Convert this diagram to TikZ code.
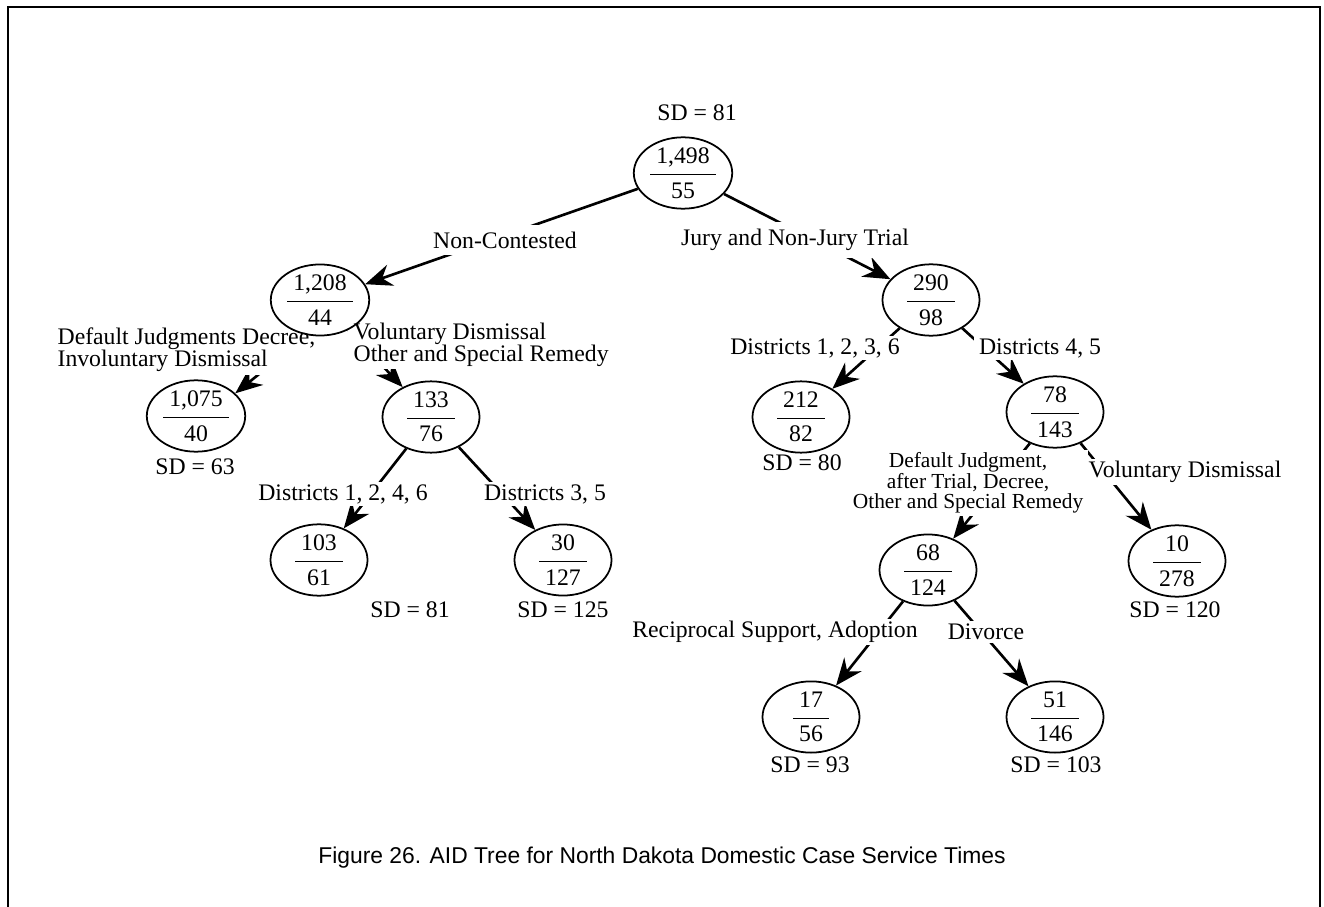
\documentclass[tikz,border=0pt]{standalone}
\usepackage{fontspec}
\setmainfont{Liberation Serif}
\newfontfamily\capfont{Liberation Sans}
\usepackage{tikz}
\usetikzlibrary{shapes.geometric, arrows.meta, backgrounds}
\newcommand{\aidfont}{\fontsize{13.5}{12.5}\selectfont}
\newcommand{\aidfrac}[2]{$\displaystyle\frac{\kern.12cm\mbox{#1}\kern.12cm}{\kern.12cm\mbox{#2}\kern.12cm}$}
\begin{document}
\begin{tikzpicture}[
    aidnode/.style={ellipse, draw, line width=1pt, minimum width=1.94cm, minimum height=1.22cm, inner sep=0pt, font=\aidfont},
    sdlbl/.style={font=\aidfont, inner sep=1pt},
    split/.style={font=\aidfont, fill=white, inner xsep=3pt, inner ysep=1.5pt},
    arrow/.style={-{Stealth[length=5.4mm, width=4.4mm, inset=1.8mm]}, line width=1.5pt}
]
    \useasboundingbox (0,0) rectangle (26.48,-18.14);
    % frame, open at the bottom
    \draw[line width=1.3pt] (0.16,-18.14) -- (0.16,-0.14) -- (26.40,-0.14) -- (26.40,-18.14);

    % Split labels (white, so they break the connectors)
    \node[split, inner ysep=4pt] (lnc) at (10.10, -4.80) {Non-Contested};
    \node[split, inner ysep=4pt] (ljury) at (15.90, -4.80) {Jury and Non-Jury Trial};
    \node[split, anchor=west, align=left] (ldefj) at (1.04, -7.00) {Default Judgments Decree,\\Involuntary Dismissal};
    \node[split, anchor=west, align=left] (lvold) at (6.96, -6.90) {Voluntary Dismissal\\Other and Special Remedy};
    \node[split] (ldA) at (16.30, -6.96) {Districts 1, 2, 3, 6};
    \node[split] (ldB) at (20.80, -6.96) {Districts 4, 5};
    \node[split] (ldC) at (6.86, -9.88) {Districts 1, 2, 4, 6};
    \node[split] (ldD) at (10.90, -9.88) {Districts 3, 5};
    \node[split, align=center, font=\fontsize{12.2}{11.6}\selectfont] (ltrial) at (19.36, -9.66) {Default Judgment,\\after Trial, Decree,\\Other and Special Remedy};
    \node[split] (lvol) at (23.70, -9.44) {Voluntary Dismissal};
    \node[split] (lrecip) at (15.50, -12.64) {Reciprocal Support, Adoption};
    \node[split] (ldiv) at (19.72, -12.64) {Divorce};

    % --- Level 0 ---
    \node[aidnode] (root) at (13.66, -3.46) {\aidfrac{1,498}{55}};
    \node[sdlbl] (sdroot) at (13.94, -2.26) {SD = 81};

    % --- Level 1 ---
    \node[aidnode] (nc) at (6.40, -6.00) {\aidfrac{1,208}{44}};
    \node[aidnode] (jury) at (18.62, -6.00) {\aidfrac{290}{98}};

    % --- Level 2 ---
    \node[aidnode] (defj) at (3.92, -8.32) {\aidfrac{1,075}{40}};
    \node[sdlbl] (sddefj) at (3.90, -9.34) {SD = 63};
    \node[aidnode] (vold) at (8.62, -8.34) {\aidfrac{133}{76}};
    \node[aidnode] (dA) at (16.02, -8.34) {\aidfrac{212}{82}};
    \node[sdlbl] (sddA) at (16.04, -9.26) {SD = 80};
    \node[aidnode] (dB) at (21.10, -8.24) {\aidfrac{78}{143}};

    % --- Level 3 ---
    \node[aidnode] (dC) at (6.38, -11.20) {\aidfrac{103}{61}};
    \node[sdlbl] (sddC) at (8.20, -12.20) {SD = 81};
    \node[aidnode] (dD) at (11.26, -11.20) {\aidfrac{30}{127}};
    \node[sdlbl] (sddD) at (11.26, -12.20) {SD = 125};
    \node[aidnode] (trial) at (18.56, -11.40) {\aidfrac{68}{124}};
    \node[aidnode] (vol) at (23.54, -11.22) {\aidfrac{10}{278}};
    \node[sdlbl] (sdvol) at (23.50, -12.20) {SD = 120};

    % --- Level 4 ---
    \node[aidnode] (recip) at (16.22, -14.34) {\aidfrac{17}{56}};
    \node[sdlbl] (sdrecip) at (16.20, -15.30) {SD = 93};
    \node[aidnode] (div) at (21.10, -14.34) {\aidfrac{51}{146}};
    \node[sdlbl] (sddiv) at (21.12, -15.30) {SD = 103};

    % Connections (under the labels)
    \begin{scope}[on background layer]
        \draw[arrow] (root) -- (nc);
        \draw[arrow] (root) -- (jury);
        \draw[arrow] (nc.250) -- (defj.30);
        \draw[arrow] (nc) -- (vold);
        \draw[arrow] (jury) -- (dA);
        \draw[arrow] (jury) -- (dB);
        \draw[arrow] (vold) -- (dC);
        \draw[arrow] (vold) -- (dD);
        \draw[arrow] (dB) -- (trial);
        \draw[arrow] (dB) -- (vol);
        \draw[arrow] (trial) -- (recip);
        \draw[arrow] (trial) -- (div);
    \end{scope}

    % Caption
    \node[font=\capfont\fontsize{13}{15}\selectfont] (caption) at (13.24, -17.16) {Figure 26. AID Tree for North Dakota Domestic Case Service Times};
\end{tikzpicture}
\end{document}
